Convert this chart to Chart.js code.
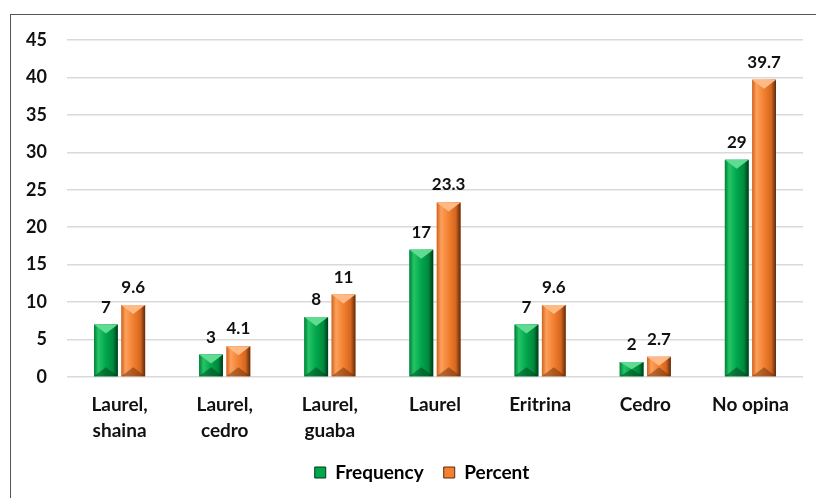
<!DOCTYPE html>
<html>
<head>
<meta charset="utf-8">
<script src="https://cdn.jsdelivr.net/npm/chart.js@4/dist/chart.umd.min.js"></script>
<style>
    html, body { margin: 0; padding: 0; background: #fff; overflow: hidden; }
    #frame {
        position: absolute;
        left: 10px;
        top: 14px;
        width: 840px;
        height: 500px;
        border: 1.5px solid #555;
        box-sizing: border-box;
    }
    #wrap { position: absolute; left: 0; top: 0; width: 822px; height: 484px; }
</style>
</head>
<body>
<div id="frame">
    <div id="wrap"><canvas id="chart"></canvas></div>
</div>
<script>
const categories = [["Laurel,", "shaina"], ["Laurel,", "cedro"], ["Laurel,", "guaba"], "Laurel", "Eritrina", "Cedro", "No opina"];
const frequency = [7, 3, 8, 17, 7, 2, 29];
const percent = [9.6, 4.1, 11, 23.3, 9.6, 2.7, 39.7];

const FONT = "Lato, 'Open Sans', sans-serif";

const palette = {
    green: {
        mid: "#00a64c",
        stops: ["#007f38", "#25c466", "#00a64c", "#008a3d", "#003a18"],
        top: "#5fdc92",
        bottom: "rgba(0,50,20,0.45)"
    },
    orange: {
        mid: "#f2802f",
        stops: ["#cf6420", "#fca05c", "#f2802f", "#d5661f", "#5a2a0e"],
        top: "#ffb985",
        bottom: "rgba(90,40,10,0.45)"
    }
};

// repaints each bar with a bevelled look, using the bar elements' own geometry
const bevelPlugin = {
    id: "bevel",
    afterDatasetsDraw(chart) {
        const ctx = chart.ctx;
        chart.data.datasets.forEach((ds, i) => {
            const p = palette[ds.paletteKey];
            chart.getDatasetMeta(i).data.forEach(bar => {
                const left = bar.x - bar.width / 2;
                const right = bar.x + bar.width / 2;
                const top = bar.y;
                const bottom = bar.base;
                const h = bottom - top;
                const b = Math.min(9, h / 2);
                ctx.save();
                const g = ctx.createLinearGradient(left, 0, right, 0);
                g.addColorStop(0, p.stops[0]);
                g.addColorStop(0.18, p.stops[1]);
                g.addColorStop(0.5, p.stops[2]);
                g.addColorStop(0.8, p.stops[3]);
                g.addColorStop(1, p.stops[4]);
                ctx.fillStyle = g;
                ctx.fillRect(left, top, right - left, h);
                // top face
                ctx.fillStyle = p.top;
                ctx.beginPath();
                ctx.moveTo(left, top); ctx.lineTo(right, top);
                ctx.lineTo(bar.x, top + b);
                ctx.closePath(); ctx.fill();
                // bottom face
                ctx.fillStyle = p.bottom;
                ctx.beginPath();
                ctx.moveTo(left, bottom); ctx.lineTo(right, bottom);
                ctx.lineTo(bar.x, bottom - b);
                ctx.closePath(); ctx.fill();
                ctx.restore();
            });
        });
    }
};

// value labels above bars
const valueLabels = {
    id: "valueLabels",
    afterDatasetsDraw(chart) {
        const ctx = chart.ctx;
        ctx.save();
        ctx.font = "bold 17px " + FONT;
        ctx.fillStyle = "#111";
        ctx.textAlign = "center";
        ctx.textBaseline = "bottom";
        chart.data.datasets.forEach((ds, i) => {
            chart.getDatasetMeta(i).data.forEach((bar, j) => {
                ctx.fillText(String(ds.data[j]), bar.x, bar.y - 9);
            });
        });
        ctx.restore();
    }
};

// nudge the legend a little to the right, like the original
const legendShift = {
    id: "legendShift",
    afterLayout(chart) {
        if (chart.legend) {
            chart.legend.left += 15;
            chart.legend.right += 15;
        }
    }
};

new Chart(document.getElementById("chart"), {
    type: "bar",
    data: {
        labels: categories,
        datasets: [
            {
                label: "Frequency",
                data: frequency,
                paletteKey: "green",
                backgroundColor: palette.green.mid,
                borderWidth: 0,
                categoryPercentage: 0.52,
                barPercentage: 0.87
            },
            {
                label: "Percent",
                data: percent,
                paletteKey: "orange",
                backgroundColor: palette.orange.mid,
                borderWidth: 0,
                categoryPercentage: 0.52,
                barPercentage: 0.87
            }
        ]
    },
    options: {
        responsive: true,
        maintainAspectRatio: false,
        animation: false,
        layout: { padding: { top: 25, right: 30, bottom: 7, left: 0 } },
        plugins: {
            tooltip: { enabled: false },
            legend: {
                position: "bottom",
                labels: {
                    font: { family: FONT, size: 19, weight: "bold" },
                    color: "#111",
                    boxWidth: 11,
                    boxHeight: 11,
                    padding: 20,
                    generateLabels(chart) {
                        return chart.data.datasets.map((ds, i) => ({
                            text: ds.label,
                            fillStyle: palette[ds.paletteKey].mid,
                            strokeStyle: palette[ds.paletteKey].stops[4],
                            lineWidth: 1,
                            datasetIndex: i
                        }));
                    }
                }
            }
        },
        scales: {
            x: {
                grid: { display: false },
                border: { display: false },
                ticks: {
                    font: { family: FONT, size: 19, weight: "bold", lineHeight: 1.35 },
                    color: "#111",
                    maxRotation: 0,
                    autoSkip: false,
                    padding: 7
                },
                afterFit(scale) { scale.height = 66; }
            },
            y: {
                min: 0,
                max: 45,
                grid: { color: "#d9d9d9", lineWidth: 1.5, drawTicks: false },
                border: { display: false },
                ticks: {
                    stepSize: 5,
                    font: { family: FONT, size: 18, weight: "bold" },
                    color: "#111",
                    padding: 20
                },
                afterFit(scale) {
                    scale.width = 56;
                    scale.paddingTop = 0;
                    scale.paddingBottom = 0;
                }
            }
        }
    },
    plugins: [bevelPlugin, valueLabels, legendShift]
});
</script>
</body>
</html>
